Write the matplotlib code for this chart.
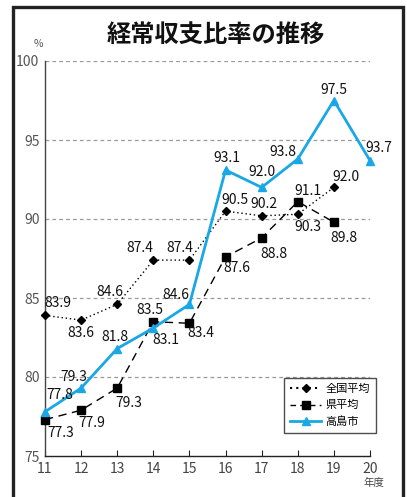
import matplotlib
matplotlib.use("Agg")
import matplotlib.pyplot as plt
from matplotlib.patches import Rectangle
from matplotlib.lines import Line2D
from matplotlib import font_manager

plt.rcParams['font.family'] = ['Noto Sans CJK JP', 'DejaVu Sans']

years = [11, 12, 13, 14, 15, 16, 17, 18, 19, 20]
national = [83.9, 83.6, 84.6, 87.4, 87.4, 90.5, 90.2, 90.3, 92.0]
prefecture = [77.3, 77.9, 79.3, 83.5, 83.4, 87.6, 88.8, 91.1, 89.8]
takashima = [77.8, 79.3, 81.8, 83.1, 84.6, 93.1, 92.0, 93.8, 97.5, 93.7]
series_names = ['全国平均', '県平均', '高島市']
title = '経常収支比率の推移'
yticks = [75, 80, 85, 90, 95, 100]

names = {f.name for f in font_manager.fontManager.ttflist}
NUMFONT = 'Liberation Sans Narrow' if 'Liberation Sans Narrow' in names else 'Noto Sans CJK JP'

BLUE = '#1aa7e6'
W, H = 407, 497
fig = plt.figure(figsize=(W / 100, H / 100), dpi=100)

fig.patches.append(Rectangle((13 / W, -0.05), (403 - 13) / W, 1.05 - 7 / H,
                             transform=fig.transFigure, fill=False,
                             lw=2.4, edgecolor='#222222'))

ax = fig.add_axes([45 / W, (H - 456) / H, (370 - 45) / W, (456 - 61) / H])
ax.set_xlim(11, 20)
ax.set_ylim(75, 100)

for yv in yticks[1:]:
    ax.axhline(yv, color='#999999', lw=0.9, ls=(0, (3, 2.5)), zorder=0)

ax.plot(years[:len(national)], national, color='black', lw=1.0, ls=(0, (1, 2)),
        marker='D', ms=4, zorder=3, clip_on=False)
ax.plot(years[:len(prefecture)], prefecture, color='black', lw=1.0, ls=(0, (6, 4)),
        marker='s', ms=6, zorder=3, clip_on=False)
ax.plot(years, takashima, color=BLUE, lw=2.0, marker='^', ms=6, zorder=4,
        clip_on=False)

nat_off = [(13, 12), (0, -13), (-7, 12), (-14, 12), (-10, 12), (9, 11), (2, 12), (10, -13), (12, 10)]
pref_off = [(16, -13), (11, -13), (12, -15), (-3, 12), (11, -10), (11, -11), (12, -16), (10, 11), (10, -16)]
tak_off = [(15, 17), (-7, 11), (-2, 12), (13, -12), (-14, 9), (1, 12), (0, 15), (-15, 7), (0, 11), (9, 13)]

def label(xs, ys, offs):
    for x, y, o in zip(xs, ys, offs):
        ax.annotate(f'{y:.1f}', (x, y), xytext=o, textcoords='offset pixels',
                    ha='center', va='center', fontsize=10, color='#111111',
                    family=[NUMFONT, 'DejaVu Sans'], zorder=6)

label(years, national, nat_off)
label(years, prefecture, pref_off)
label(years, takashima, tak_off)

for s in ['top', 'right']:
    ax.spines[s].set_visible(False)
ax.spines['left'].set_color('#444444')
ax.spines['bottom'].set_color('#222222')
ax.spines['left'].set_linewidth(1.0)
ax.spines['bottom'].set_linewidth(1.0)

ax.set_yticks(yticks)
ax.set_yticklabels([str(v) for v in yticks], color='#555555', fontsize=10,
                   family=[NUMFONT, 'DejaVu Sans'])
ax.tick_params(axis='y', length=0, pad=4)
ax.set_xticks(years)
ax.set_xticklabels([str(v) for v in years], color='#444444', fontsize=10,
                   family=[NUMFONT, 'DejaVu Sans'])
ax.tick_params(axis='x', direction='in', length=4, pad=4, color='#222222')

fig.text(38 / W, 1 - 44 / H, '%', ha='center', va='center', fontsize=7.5,
         color='#555555')
fig.text(374 / W, 1 - 483 / H, '年度', ha='center', va='center', fontsize=7.5,
         color='#444444')
fig.text(216 / W, 1 - 35 / H, title, ha='center', va='center', fontsize=17.5,
         fontweight='bold', color='#111111')

handles = [
    Line2D([], [], color='black', lw=1.5, ls=(0, (1, 2)), marker='D', ms=4),
    Line2D([], [], color='black', lw=1.0, ls=(0, (4, 3)), marker='s', ms=6),
    Line2D([], [], color=BLUE, lw=2.0, marker='^', ms=6),
]
leg = fig.legend(handles, series_names, loc='upper left',
                 bbox_to_anchor=(284 / W, 1 - 378 / H), frameon=True, fancybox=False,
                 edgecolor='#222222', fontsize=8, handlelength=2.8,
                 handletextpad=0.4, borderpad=0.55, labelspacing=0.55,
                 borderaxespad=0)
leg.get_frame().set_linewidth(1.0)

fig.savefig('out.png', dpi=100)
